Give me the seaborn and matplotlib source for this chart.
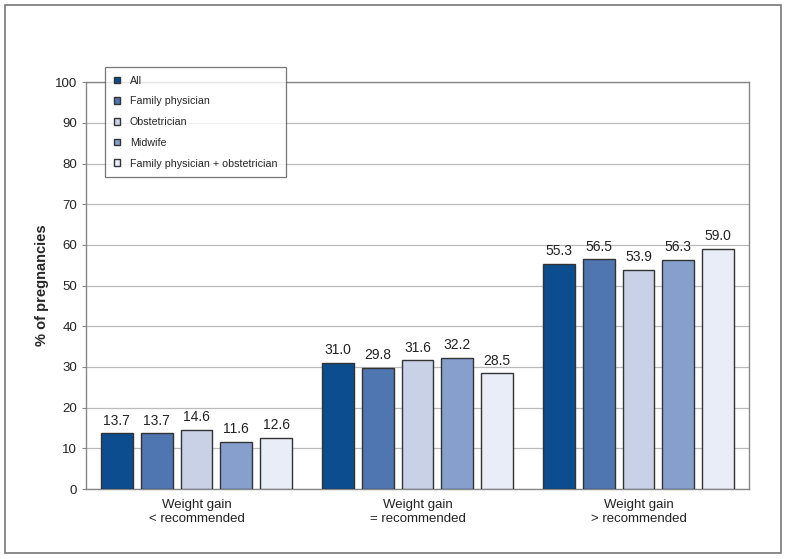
import pandas as pd
import seaborn as sns
import matplotlib.pyplot as plt
from matplotlib.patches import Rectangle

# Data
groups = ["Weight gain\n< recommended", "Weight gain\n= recommended", "Weight gain\n> recommended"]
providers = ["All", "Family physician", "Obstetrician", "Midwife", "Family physician + obstetrician"]
all_vals = [13.7, 31.0, 55.3]
fp_vals = [13.7, 29.8, 56.5]
obs_vals = [14.6, 31.6, 53.9]
mid_vals = [11.6, 32.2, 56.3]
fpobs_vals = [12.6, 28.5, 59.0]

colors = ["#0b4d8e", "#4f76b0", "#c9d1e7", "#879fcc", "#e9edf7"]

rows = []
for prov, vals in zip(providers, [all_vals, fp_vals, obs_vals, mid_vals, fpobs_vals]):
    for g, v in zip(groups, vals):
        rows.append({"group": g, "provider": prov, "value": v})
df = pd.DataFrame(rows)

sns.set_style("white")
plt.rcParams["font.family"] = ["Liberation Sans", "DejaVu Sans"]

fig = plt.figure(figsize=(7.86, 5.59), dpi=100)
ax = fig.add_axes([0.1094, 0.1252, 0.8436, 0.7278])

sns.barplot(data=df, x="group", y="value", hue="provider", hue_order=providers,
            palette=colors, width=0.9, gap=0.2, edgecolor="#333333", linewidth=1,
            saturation=1, ax=ax, zorder=3)

for cont in ax.containers:
    ax.bar_label(cont, fmt="%.1f", padding=4, fontsize=10, color="#222222")

ax.set_ylim(0, 100)
ax.set_xlim(-0.5, 2.5)
ax.set_yticks(range(0, 101, 10))
ax.yaxis.grid(True, color="#bbbbbb", linewidth=0.9, zorder=0)
ax.set_axisbelow(True)
ax.tick_params(axis="y", left=True, length=3, labelsize=9.5, color="#888888", labelcolor="#222222")
ax.tick_params(axis="x", bottom=False, labelsize=9.5, labelcolor="#222222", pad=4)
for s in ax.spines.values():
    s.set_color("#888888")
    s.set_linewidth(1)
ax.set_xlabel("")
ax.set_ylabel("% of pregnancies", fontsize=10.5, fontweight="bold", labelpad=4)

leg = ax.legend(loc="upper left", bbox_to_anchor=(0.021, 1.05), fontsize=7.7, frameon=True,
                fancybox=False, edgecolor="#555555", handlelength=0.6, handleheight=0.6,
                labelspacing=1.0, borderpad=0.8, handletextpad=0.9)
leg.get_frame().set_linewidth(0.9)

# outer frame
fig.patches.append(Rectangle((0.006, 0.011), 0.988, 0.98, transform=fig.transFigure,
                             fill=False, edgecolor="#777777", linewidth=1.2))

plt.savefig("out.png", dpi=100)
